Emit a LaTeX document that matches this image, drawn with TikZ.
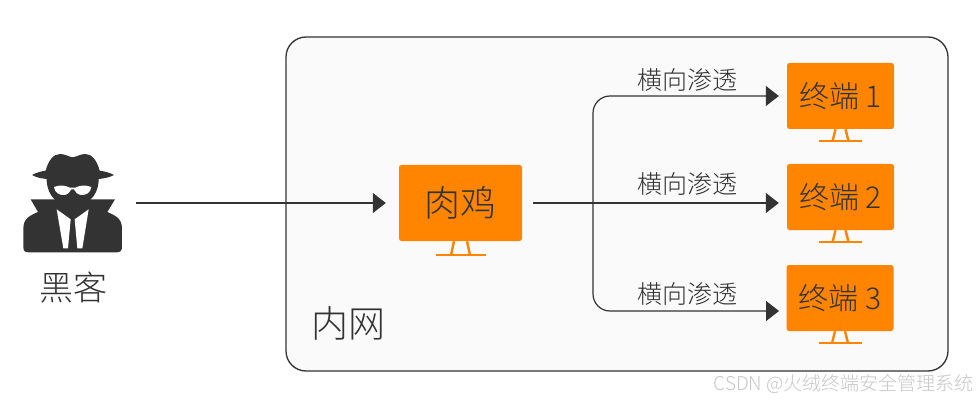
\documentclass[tikz,border=0pt]{standalone}
\usepackage{fontspec}
\setmainfont{Noto Sans CJK SC Light}
\usetikzlibrary{arrows.meta}
\definecolor{ink}{HTML}{333333}
\definecolor{orangefill}{HTML}{FF8500}
\definecolor{netfill}{HTML}{FAFAFA}
\newcommand{\fs}[1]{\fontsize{#1}{#1}\selectfont}
\tikzset{
  x=1pt,y=-1pt,
  screen/.style={fill=orangefill,rounded corners=2.5,inner sep=0,text=ink},
  bigscreen/.style={screen,minimum width=123,minimum height=76,font=\fs{36}},
  smallscreen/.style={screen,minimum width=107,minimum height=66,font=\fs{30}},
  label/.style={inner sep=0,text=ink,font=\fs{25}},
  link/.style={draw=ink,line width=1.2,-{Triangle[length=13,width=20]}},
  stand/.style={draw=orangefill,line width=2.4},
}
% stand under a screen: #1 = screen node, #2 = half base width, #3 drop, #4 half top width
\newcommand{\standunder}[4]{%
  \draw[stand] ([xshift=-#4]#1.south) -- ++(-3,#3);
  \draw[stand] ([xshift=#4]#1.south) -- ++(3,#3);
  \draw[stand] ([xshift=-#2,yshift=-#3]#1.south) -- ([xshift=#2,yshift=-#3]#1.south);
}
\begin{document}
\begin{tikzpicture}
\useasboundingbox (0,0) rectangle (978,401);
\fill[white] (0,0) rectangle (978,401);
\node[draw=ink,fill=netfill,line width=1.3,rounded corners=20,inner sep=0,minimum width=662,minimum height=334] (net) at (617,204) {};
\node[label,font=\fs{37}] (netlabel) at (348.5,323) {内网};

% hacker icon
\node[inner sep=0,minimum width=100,minimum height=100] (hacker) at (73,203) {};
\begin{scope}[shift={(0,140)},scale=1/3]
 \fill[ink] (96,105) .. controls (110,97) and (125,94) .. (137,92)
   .. controls (145,62) and (160,42) .. (180,42)
   .. controls (195,42) and (205,50) .. (218,52)
   .. controls (231,50) and (241,42) .. (256,42)
   .. controls (276,42) and (291,62) .. (299,92)
   .. controls (311,94) and (328,97) .. (342,105)
   .. controls (320,116) and (300,119) .. (218,120)
   .. controls (136,119) and (116,116) .. (96,105) -- cycle;
 \fill[ink] (140,110) -- (296,110) .. controls (298,150) and (280,195) .. (218,200)
   .. controls (156,195) and (138,150) .. (140,110) -- cycle;
 \fill[ink] (92,178) -- (160,178) -- (276,178) -- (345,178) -- (322,216)
   .. controls (345,226) and (366,235) .. (366,265)
   -- (366,322) .. controls (366,332) and (360,337) .. (350,337)
   -- (85,337) .. controls (75,337) and (70,332) .. (70,322)
   -- (70,265) .. controls (70,235) and (91,226) .. (114,216) -- cycle;
 \fill[white] (162,141) .. controls (180,134) and (195,136) .. (210,143)
   -- (226,143) .. controls (240,136) and (256,134) .. (274,141)
   .. controls (272,158) and (258,166) .. (244,165)
   .. controls (232,164) and (226,156) .. (222,148)
   -- (214,148) .. controls (210,156) and (204,164) .. (192,165)
   .. controls (178,166) and (164,158) .. (162,141) -- cycle;
 \fill[white] (170,208) -- (212,238) -- (204,325) -- (190,325) -- cycle;
 \fill[white] (266,208) -- (224,238) -- (232,325) -- (247,325) -- cycle;
\end{scope}
\node[label,font=\fs{34}] (hackerlabel) at (73,288) {黑客};

% screens
\node[bigscreen] (rou) at (460.5,203) {肉鸡};
\standunder{rou}{25}{14}{6.5}
\node[smallscreen] (t1) at (840.5,96) {终端 1};
\standunder{t1}{21.5}{12}{5}
\node[smallscreen] (t2) at (840.5,197) {终端 2};
\standunder{t2}{21.5}{12}{5}
\node[smallscreen] (t3) at (840,298) {终端 3};
\standunder{t3}{21.5}{12}{5}

% connectors
\draw[link,shorten <=13,shorten >=13] (hacker.east) -- (rou.west);
\draw[link,shorten <=11,shorten >=8] (rou.east) -- (rou.east -| t2.west);
\coordinate (fork) at (593,203);
\draw[link,shorten >=8,rounded corners=17] (fork) -- (fork |- t1.west) -- (t1.west);
\coordinate (tb) at (786.5,311);
\draw[link,shorten >=7.5,rounded corners=17] (fork) -- (fork |- tb) -- (tb);

\node[label] (l1) at (687,80) {横向渗透};
\node[label] (l2) at (687,184) {横向渗透};
\node[label] (l3) at (687,294) {横向渗透};

\node[inner sep=0,text=black!22,font=\fs{19},anchor=east] (mark) at (974,384) {CSDN @火绒终端安全管理系统};
\end{tikzpicture}
\end{document}
